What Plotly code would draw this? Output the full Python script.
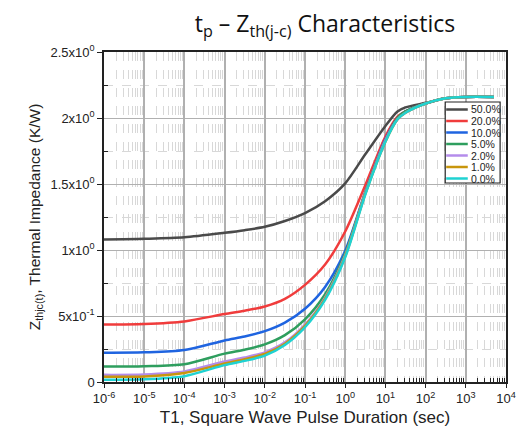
import plotly.graph_objects as go

# Pulse duration (sec)
pulse_t = [1e-6, 1e-5, 1e-4, 1e-3, 3.16e-3, 1e-2, 3.16e-2, 0.1, 0.316, 1,
           3.16, 10, 20, 31.6, 100, 316, 1000, 5000]

# Thermal impedance (K/W) for each duty cycle
z_50 = [1.080, 1.085, 1.096, 1.130, 1.150, 1.176, 1.220, 1.280, 1.370, 1.505,
        1.725, 1.940, 2.050, 2.080, 2.115, 2.150, 2.160, 2.160]
z_20 = [0.436, 0.440, 0.459, 0.515, 0.540, 0.572, 0.630, 0.736, 0.890, 1.140,
        1.490, 1.860, 2.010, 2.050, 2.110, 2.150, 2.160, 2.160]
z_10 = [0.222, 0.225, 0.242, 0.315, 0.345, 0.385, 0.450, 0.555, 0.720, 0.995,
        1.440, 1.840, 2.000, 2.050, 2.110, 2.150, 2.160, 2.160]
z_5 = [0.117, 0.120, 0.135, 0.215, 0.245, 0.285, 0.355, 0.475, 0.665, 0.975,
       1.435, 1.830, 2.000, 2.050, 2.110, 2.150, 2.160, 2.160]
z_2 = [0.054, 0.057, 0.080, 0.155, 0.185, 0.225, 0.300, 0.435, 0.640, 0.960,
       1.430, 1.830, 1.990, 2.040, 2.110, 2.150, 2.160, 2.160]
z_1 = [0.039, 0.042, 0.068, 0.140, 0.172, 0.212, 0.290, 0.425, 0.632, 0.952,
       1.425, 1.820, 1.990, 2.040, 2.110, 2.150, 2.160, 2.160]
z_0 = [0.017, 0.020, 0.044, 0.128, 0.160, 0.200, 0.280, 0.415, 0.622, 0.945,
       1.420, 1.820, 1.990, 2.040, 2.110, 2.150, 2.160, 2.160]

series_names = ["50.0%", "20.0%", "10.0%", "5.0%", "2.0%", "1.0%", "0.0%"]
series_values = [z_50, z_20, z_10, z_5, z_2, z_1, z_0]
series_colors = ["#4a4a4a", "#f03c3c", "#1f64e0", "#2e9e5e", "#b48ceb", "#c8960c", "#1fd2d2"]

x_tick_vals = [1e-6, 1e-5, 1e-4, 1e-3, 1e-2, 1e-1, 1, 10, 100, 1000, 10000]
x_tick_text = ["10<sup>-6</sup>", "10<sup>-5</sup>", "10<sup>-4</sup>", "10<sup>-3</sup>",
               "10<sup>-2</sup>", "10<sup>-1</sup>", "10<sup>0</sup>", "10<sup>1</sup>",
               "10<sup>2</sup>", "10<sup>3</sup>", "10<sup>4</sup>"]
y_tick_vals = [0, 0.5, 1.0, 1.5, 2.0, 2.5]
y_tick_text = ["0", "5x10<sup>-1</sup>", "1x10<sup>0</sup>", "1.5x10<sup>0</sup>",
               "2x10<sup>0</sup>", "2.5x10<sup>0</sup>"]

# minor log ticks: 2..9 within each decade
x_minor_vals = [k * d for d in x_tick_vals[:-1] for k in range(2, 10)]

W, H = 528, 437
ML, MR, MT, MB = 104, 14, 52, 55
PW, PH = W - ML - MR, H - MT - MB

fig = go.Figure()
for name, vals, col in zip(series_names, series_values, series_colors):
    fig.add_trace(go.Scatter(
        x=pulse_t, y=vals, name=name, mode="lines",
        line=dict(color=col, width=2.5, shape="spline", smoothing=0.8),
        showlegend=False,
    ))

axis_font = "Liberation Sans, Arial, sans-serif"

fig.update_xaxes(
    type="log", range=[-6, 4],
    tickvals=x_tick_vals, ticktext=x_tick_text,
    tickfont=dict(family=axis_font, size=13, color="#222"),
    ticks="outside", ticklen=4, tickcolor="#222",
    showline=True, linecolor="#222", linewidth=1.5, mirror=True,
    showgrid=True, gridcolor="#b0b0b0", gridwidth=1.5,
    minor=dict(tickvals=x_minor_vals, ticks="inside", ticklen=4, tickcolor="#222",
               showgrid=True, gridcolor="#d8d8d8", griddash="dash", gridwidth=1),
    title=dict(text="T1, Square Wave Pulse Duration (sec)",
               font=dict(family=axis_font, size=17, color="#222"), standoff=6),
    zeroline=False,
)
fig.update_yaxes(
    range=[0, 2.5],
    tickvals=y_tick_vals, ticktext=y_tick_text,
    tickfont=dict(family=axis_font, size=13, color="#222"),
    ticks="outside", ticklen=5, tickcolor="#222",
    showline=True, linecolor="#222", linewidth=1.5, mirror=True,
    showgrid=True, gridcolor="#b0b0b0", gridwidth=1,
    minor=dict(tickvals=[0.25, 0.75, 1.25, 1.75, 2.25], ticks="inside", ticklen=4,
               tickcolor="#222", showgrid=True, gridcolor="#d8d8d8",
               griddash="dash", gridwidth=1),
    title=dict(text="Z<sub>thjc(t)</sub>, Thermal Impedance (K/W)",
               font=dict(family=axis_font, size=15.5, color="#222"), standoff=6),
    zeroline=False,
)

# Legend box drawn in pixel units converted to paper coordinates
def px_x(p):
    return (p - ML) / PW

def px_y(p):
    return (H - MB - p) / PH

box_l, box_r, box_t, box_b = 452, 508, 102, 183
row0, row_step = 109.5, 11.5
shapes = [dict(type="rect", xref="paper", yref="paper",
               x0=px_x(box_l), x1=px_x(box_r), y0=px_y(box_b), y1=px_y(box_t),
               line=dict(color="#222", width=1.2), fillcolor="white")]
annotations = []
for i, (name, col) in enumerate(zip(series_names, series_colors)):
    ry = row0 + i * row_step
    shapes.append(dict(type="line", xref="paper", yref="paper",
                       x0=px_x(box_l + 1), x1=px_x(box_l + 23), y0=px_y(ry), y1=px_y(ry),
                       line=dict(color=col, width=2.5)))
    annotations.append(dict(xref="paper", yref="paper", x=px_x(box_l + 24), y=px_y(ry),
                            xanchor="left", yanchor="middle", showarrow=False,
                            text=name, font=dict(family=axis_font, size=10.5, color="#222")))

fig.update_layout(
    width=W, height=H,
    margin=dict(l=ML, r=MR, t=MT, b=MB),
    paper_bgcolor="white", plot_bgcolor="white",
    title=dict(text="t<sub>p</sub> – Z<sub>th(j-c)</sub> Characteristics",
               x=325 / W, xref="container", xanchor="center",
               y=1 - 24 / H, yref="container", yanchor="middle",
               font=dict(family="Open Sans, sans-serif", size=23, color="#111")),
    shapes=shapes, annotations=annotations,
)

fig.write_html("out.html")
